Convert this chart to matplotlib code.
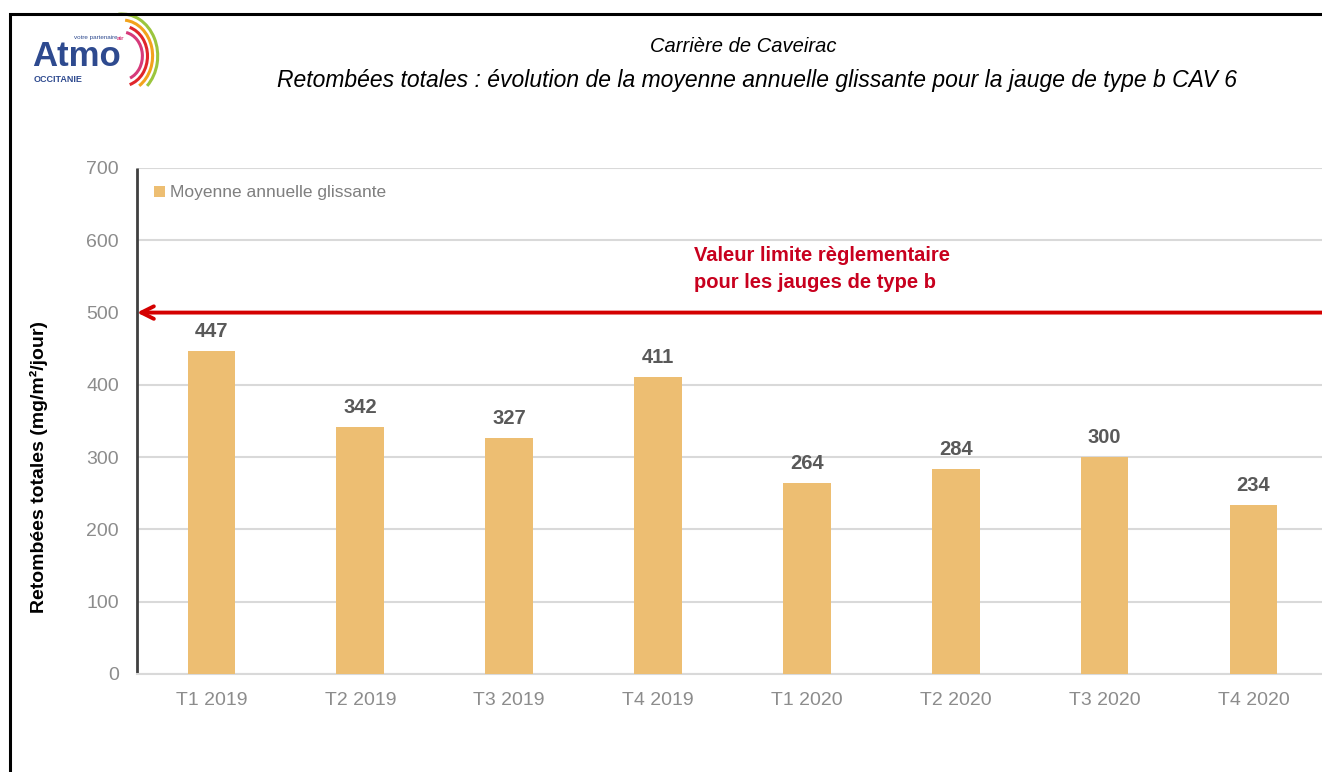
import matplotlib
matplotlib.use("Agg")
import matplotlib.pyplot as plt
from matplotlib.patches import Rectangle, Arc

categories = ["T1 2019", "T2 2019", "T3 2019", "T4 2019", "T1 2020", "T2 2020", "T3 2020", "T4 2020"]
values = [447, 342, 327, 411, 264, 284, 300, 234]
limit_value = 500
yticks = [0, 100, 200, 300, 400, 500, 600, 700]

plt.rcParams['font.family'] = ['Liberation Sans', 'DejaVu Sans']

W, H = 1322, 772
fig = plt.figure(figsize=(W / 100, H / 100), dpi=100)
fig.patch.set_facecolor('white')

# outer frame
fig.patches.append(Rectangle((10 / W, -0.1), 1.2, 1 - 14 / H + 0.1, transform=fig.transFigure,
                             fill=False, edgecolor='black', linewidth=2.2))

ax = fig.add_axes([137 / W, 1 - 674 / H, (1322 - 137) / W, (674 - 168) / H])
x = list(range(len(categories)))
ax.bar(x, values, width=0.32, color='#EDBE72', zorder=3, label='Moyenne annuelle glissante')
ax.set_xlim(-0.5, 7.46)
ax.set_ylim(0, 700)
ax.set_yticks(yticks)
ax.set_xticks(x)
ax.set_xticklabels(categories)
ax.tick_params(axis='both', length=0, colors='#8c8c8c', labelsize=14)
ax.tick_params(axis='x', pad=13)
ax.tick_params(axis='y', pad=13)
ax.yaxis.grid(True, color='#d9d9d9', linewidth=1.5, zorder=0)
ax.set_axisbelow(True)
for s in ['top', 'right']:
    ax.spines[s].set_visible(False)
ax.spines['bottom'].set_color('#d9d9d9')
ax.spines['bottom'].set_linewidth(1.5)
ax.spines['left'].set_color('#404040')
ax.spines['left'].set_linewidth(2)
ax.spines['left'].set_capstyle('butt')

for xi, v in zip(x, values):
    ax.text(xi, v + 14, f"{v}", ha='center', va='bottom', fontsize=14.5, fontweight='bold', color='#595959')

# limit line with arrow
ax.annotate('', xy=(-0.5, limit_value), xytext=(7.6, limit_value), xycoords='data',
            arrowprops=dict(arrowstyle='->,head_length=0.9,head_width=0.45', color='#d40000', lw=2.8,
                            shrinkA=0, shrinkB=0), zorder=5, annotation_clip=False)
ax.text(3.24, 560, "Valeur limite règlementaire\npour les jauges de type b", ha='left', va='center',
        fontsize=14.5, fontweight='bold', color='#c8001e', linespacing=1.55)

ax.set_ylabel("Retombées totales (mg/m²/jour)", fontsize=14, fontweight='bold', color='black')
ax.yaxis.set_label_coords(-0.075, 0.41)

leg = ax.legend(loc='upper left', bbox_to_anchor=(0.0, 1.0), frameon=False, fontsize=12.5,
                handlelength=0.6, handleheight=0.6, handletextpad=0.3, borderaxespad=0.6)
for t in leg.get_texts():
    t.set_color('#7f7f7f')

# titles
fig.text(743 / W, 1 - 47 / H, "Carrière de Caveirac", ha='center', va='center', fontsize=14.5, style='italic')
fig.text(757 / W, 1 - 80 / H,
         "Retombées totales : évolution de la moyenne annuelle glissante pour la jauge de type b CAV 6",
         ha='center', va='center', fontsize=16.5, style='italic')

# logo
fig.text(32 / W, 1 - 57 / H, "Atmo", ha='left', va='center', fontsize=25, fontweight='bold', color='#2e4a8f')
fig.text(34 / W, 1 - 80 / H, "OCCITANIE", ha='left', va='center', fontsize=6.5, fontweight='bold', color='#2e4a8f')
fig.text(74 / W, 1 - 38 / H, "votre partenaire", ha='left', va='center', fontsize=4.5, color='#2e4a8f')
fig.text(117 / W, 1 - 38 / H, "air", ha='left', va='center', fontsize=4.5, fontweight='bold', color='#d63a7a')
lax = fig.add_axes([0, 0, 1, 1], facecolor='none')
lax.set_xlim(0, W)
lax.set_ylim(H, 0)
lax.axis('off')
for r, col, t1, t2 in [(24, '#d63a7a', -80, 70), (30, '#e0262b', -75, 75), (36, '#f2a21c', -85, 60), (42, '#9bc53d', -95, 50)]:
    lax.add_patch(Arc((122, 56), 2 * r * 0.85, 2 * r, theta1=t1, theta2=t2, color=col, lw=2.2))

fig.savefig("out.png", dpi=100)
